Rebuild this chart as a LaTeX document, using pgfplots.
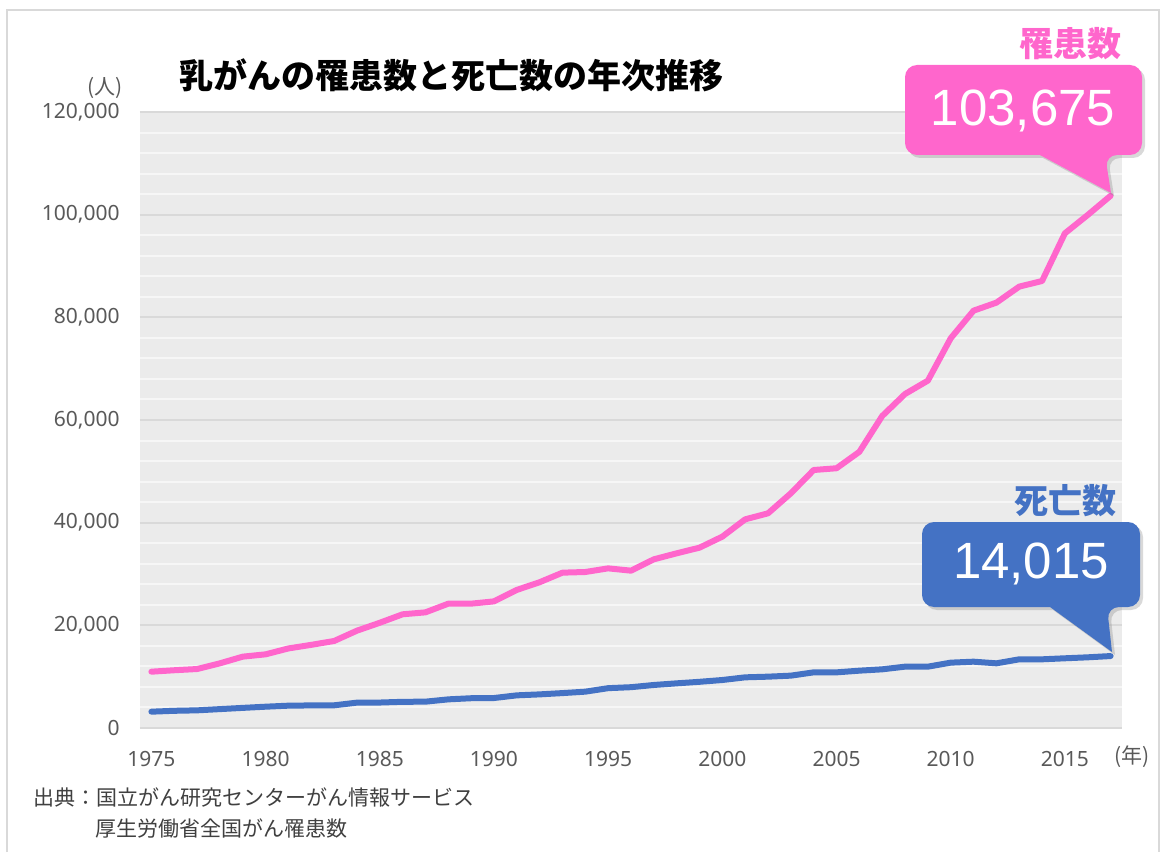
\documentclass[border=0pt]{standalone}
\usepackage{fontspec}
\usepackage{pgfplots}
\pgfplotsset{compat=1.18}
\usetikzlibrary{shadows}
\newfontfamily\jp{Noto Sans CJK JP}
\newfontfamily\ns{Noto Sans}
\newfontfamily\ls{Liberation Sans}
\definecolor{pinkc}{HTML}{FF66CC}
\definecolor{bluec}{HTML}{4472C4}
\definecolor{bgc}{HTML}{EBEBEB}
\definecolor{majc}{HTML}{D9D9D9}
\definecolor{minc}{HTML}{F6F6F6}
\definecolor{tickc}{HTML}{595959}
\definecolor{srcc}{HTML}{404040}
\pgfplotstableread{
year inc
1975 10970
1976 11250
1977 11490
1978 12600
1979 13900
1980 14350
1981 15500
1982 16200
1983 16950
1984 18960
1985 20500
1986 22150
1987 22530
1988 24220
1989 24220
1990 24670
1991 26900
1992 28400
1993 30260
1994 30390
1995 31100
1996 30650
1997 32860
1998 34030
1999 35130
2000 37280
2001 40650
2002 41820
2003 45720
2004 50260
2005 50600
2006 53800
2007 60780
2008 65070
2009 67670
2010 75920
2011 81300
2012 82860
2013 85980
2014 87080
2015 96370
2016 99940
2017 103675
}\inctable
\pgfplotstableread{
year death
1975 3180
1976 3350
1977 3440
1978 3680
1979 3920
1980 4150
1981 4350
1982 4400
1983 4420
1984 4940
1985 4960
1986 5100
1987 5130
1988 5580
1989 5800
1990 5840
1991 6360
1992 6550
1993 6800
1994 7080
1995 7760
1996 7950
1997 8380
1998 8700
1999 9000
2000 9350
2001 9870
2002 10000
2003 10200
2004 10840
2005 10840
2006 11170
2007 11430
2008 11950
2009 11950
2010 12730
2011 12920
2012 12600
2013 13380
2014 13380
2015 13580
2016 13770
2017 14015
}\deathtable
\begin{document}
\begin{tikzpicture}
\begin{scope}[x=0.5pt, y=-0.5pt, shift={(-140,-728)}]
\path[use as bounding box] (0,0) rectangle (1163,852);
\end{scope}
\begin{axis}[at={(0,0)}, anchor=south west, scale only axis,
  width=491pt, height=308pt,
  xmin=1974.5, xmax=2017.5, ymin=0, ymax=120000,
  xtick={1975,1980,1985,1990,1995,2000,2005,2010,2015},
  xticklabels={1975,1980,1985,1990,1995,2000,2005,2010,2015},
  ytick={0,20000,40000,60000,80000,100000,120000},
  yticklabels={0,{20,000},{40,000},{60,000},{80,000},{100,000},{120,000}},
  minor ytick={4000,8000,12000,16000,24000,28000,32000,36000,44000,48000,52000,56000,64000,68000,72000,76000,84000,88000,92000,96000,104000,108000,112000,116000},
  axis line style={draw=none},
  major tick length=0pt, minor tick length=0pt,
  ymajorgrids, yminorgrids,
  major grid style={draw=majc, line width=1pt},
  minor grid style={draw=minc, line width=1pt},
  axis background/.style={fill=bgc},
  clip=false,
  scaled y ticks=false,
  yticklabel style={font=\ns\fontsize{10.5}{12}\selectfont, text=tickc, anchor=east, inner sep=0pt, xshift=-10pt},
  xticklabel style={font=\ns\fontsize{10.5}{12}\selectfont, text=tickc, anchor=base, inner sep=0pt, yshift=-19pt},
]
\addplot[pinkc, line width=3pt, line cap=round, line join=round] table[x=year, y=inc] {\inctable};
\addplot[bluec, line width=3pt, line cap=round, line join=round] table[x=year, y=death] {\deathtable};
\end{axis}
\begin{scope}[x=0.5pt, y=-0.5pt, shift={(-140,-728)}, inner sep=0pt]
\draw[majc, line width=0.8pt] (7,852) -- (7,10) -- (1159,10) -- (1159,852);
\fill[pinkc, drop shadow={shadow xshift=1.5pt, shadow yshift=-1.5pt, opacity=0.3}]
  (905,110) [rounded corners=6pt] -- (905,65) -- (1142,65) -- (1142,155) -- (1105,155) [sharp corners] -- (1111,193) -- (1040,155) [rounded corners=6pt] -- (905,155) -- cycle;
\fill[bluec, drop shadow={shadow xshift=1.5pt, shadow yshift=-1.5pt, opacity=0.3}]
  (922,564) [rounded corners=6pt] -- (922,522) -- (1140,522) -- (1140,607) -- (1107,607) [sharp corners] -- (1112,652) -- (1050,607) [rounded corners=6pt] -- (922,607) -- cycle;
\node[text=white, font=\ls\fontsize{25.5}{25.5}\selectfont] at (1023,111) {103,675};
\node[text=white, font=\ls\fontsize{25.5}{25.5}\selectfont] at (1031,564) {14,015};
\node[text=pinkc, font=\jp\bfseries\fontsize{17}{17}\selectfont] at (1070,44) {罹患数};
\node[text=bluec, font=\jp\bfseries\fontsize{17}{17}\selectfont] at (1065,501) {死亡数};
\node[text=black, font=\jp\bfseries\fontsize{17}{17}\selectfont] at (452,75) {乳がんの罹患数と死亡数の年次推移};
\node[text=tickc, font=\jp\fontsize{10.5}{12}\selectfont] at (105,88) {(人)};
\node[text=tickc, font=\jp\fontsize{10.5}{12}\selectfont] at (1132,757) {(年)};
\node[anchor=west, text=srcc, font=\jp\fontsize{10.5}{12}\selectfont] at (33,797) {出典：国立がん研究センターがん情報サービス};
\node[anchor=west, text=srcc, font=\jp\fontsize{10.5}{12}\selectfont] at (95,829) {厚生労働省全国がん罹患数};
\end{scope}
\end{tikzpicture}
\end{document}
